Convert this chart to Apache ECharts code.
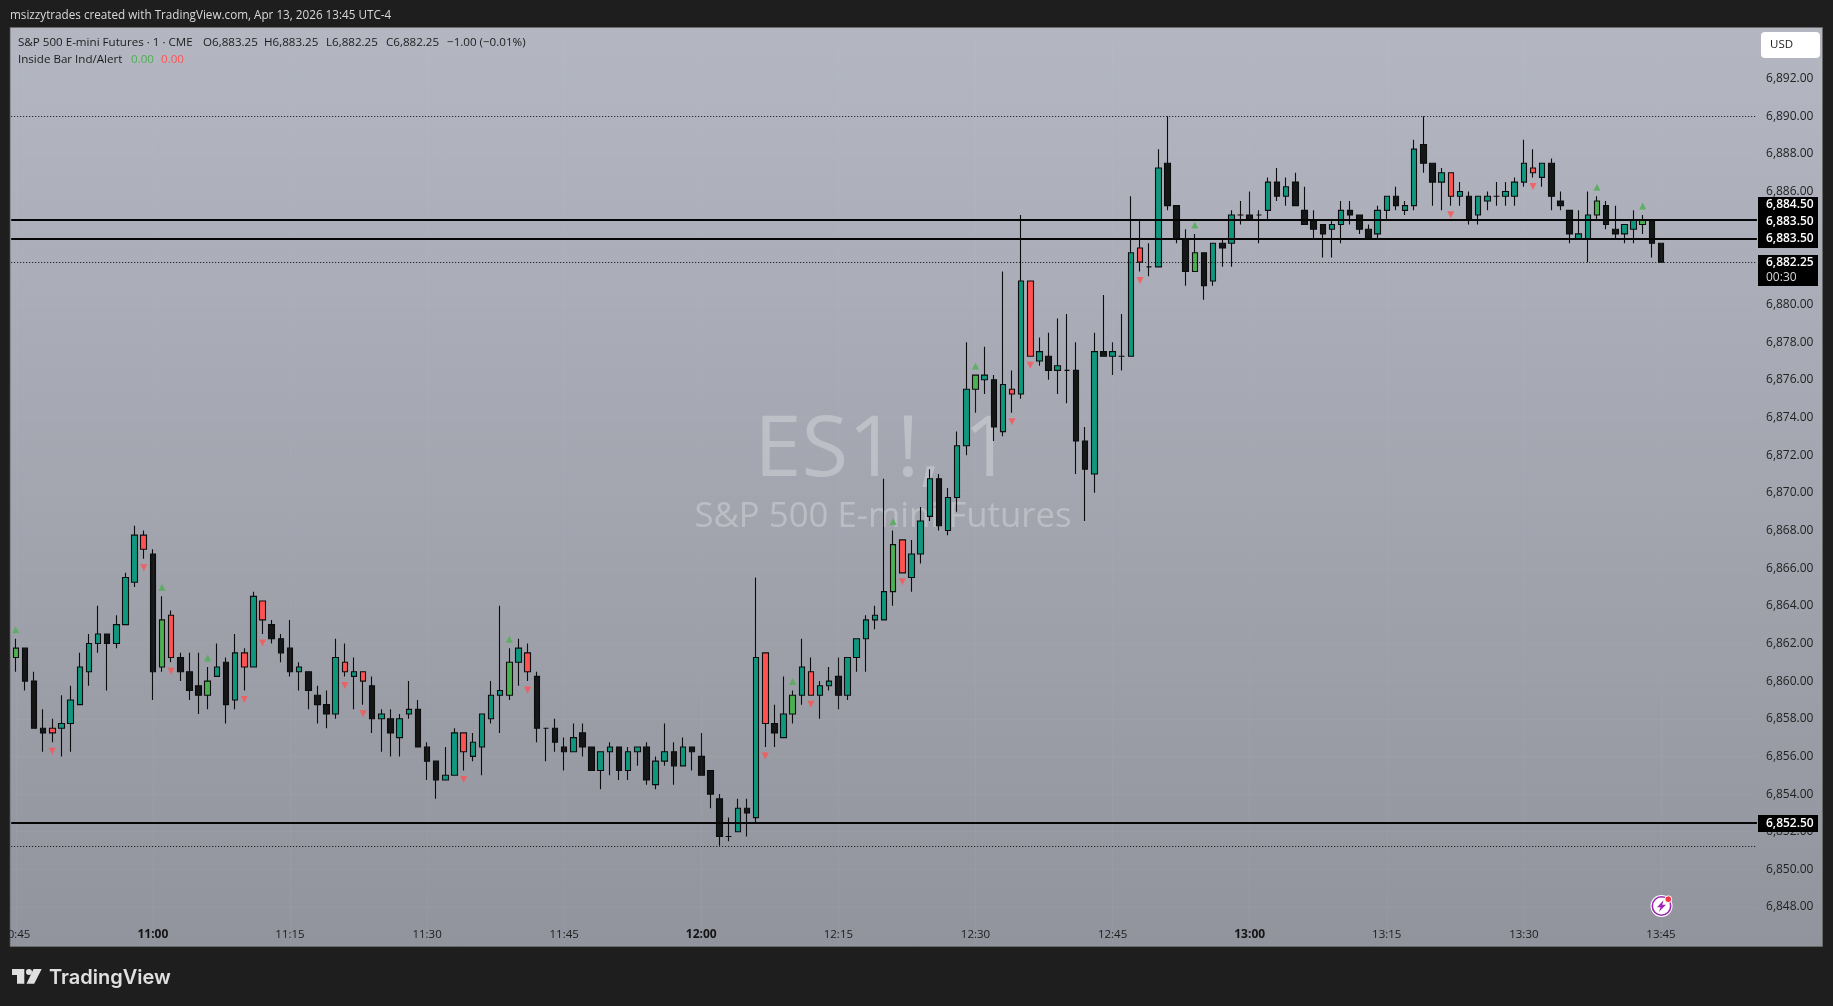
<!DOCTYPE html>
<html>
<head>
<meta charset="utf-8">
<style>html,body{margin:0;padding:0;background:#1e1e1e;overflow:hidden}#c{width:1833px;height:1006px}</style>
<script src="https://cdn.jsdelivr.net/npm/echarts@6/dist/echarts.min.js"></script>
</head>
<body>
<div id="c"></div>
<script>
const kinds = ['G','K','K','K','R','T','T','T','T','T','K','T','T','T','R','K','G','R','K','K','K','G','T','K','T','R','T','R','K','K','K','T','K','K','K','T','R','T','R','K','T','K','T','T','K','K','K','T','T','R','T','T','T','T','G','T','R','K','K','K','K','T','K','K','T','T','K','T','T','K','T','T','K','T','K','K','K','K','K','T','K','T','R','K','T','G','T','R','T','T','K','T','T','T','T','T','G','R','T','T','T','K','T','T','T','G','T','K','T','R','T','R','T','K','T','K','K','K','T','K','T','K','T','R','K','T','K','K','K','G','K','T','K','T','K','K','K','T','K','T','K','K','K','K','T','T','K','K','K','T','T','K','T','T','K','K','T','R','T','K','T','T','K','T','T','T','R','T','K','K','K','T','T','G','K','K','T','T','G','K','K'];
const opens = [6861.25,6861.75,6860,6857.5,6857.5,6857.5,6857.75,6858.75,6860.5,6862,6862.5,6862,6863,6865.25,6867.75,6866.75,6860.75,6863.5,6861.25,6860.5,6859.75,6859.25,6860.25,6861,6859,6861.5,6860.75,6864.25,6863,6862.25,6861.75,6860.5,6860.5,6859.25,6858.75,6858.25,6861,6860.25,6860.5,6859.75,6858,6858,6857,6858.25,6858.5,6856.5,6855.75,6854.75,6855,6857.25,6856,6856.5,6858,6859.25,6859.25,6861,6861.5,6860.25,6857.5,6857.5,6856.5,6856.25,6857.25,6856.5,6855.25,6856.25,6856.5,6855.25,6856.25,6856.5,6854.5,6855.75,6856.25,6855.5,6856.5,6856,6855.25,6853.75,6851.75,6852,6853.25,6852.75,6861.5,6857.75,6857,6858.25,6859.25,6860.5,6859.25,6859.75,6860.25,6859.25,6861.25,6862.25,6863.25,6863.25,6864.75,6867.5,6865.5,6866.75,6868.75,6870.75,6868,6869.75,6872.5,6875.5,6876,6876,6873.25,6875.5,6875.25,6881.25,6877,6877.25,6876.5,6876.5,6876.5,6872.75,6871,6877.5,6877.25,6877.25,6877.25,6883,6882,6882,6887.5,6885.25,6883.5,6881.75,6882.75,6881.25,6883.25,6883.25,6884.75,6884.75,6884.75,6885,6886.5,6885.75,6886.5,6885,6884.5,6884.25,6884,6884.25,6885,6884.75,6884,6883.75,6885,6885.75,6885,6885.25,6888.5,6887.5,6886.5,6887,6885.75,6885.75,6884.75,6885.5,6885.75,6885.75,6885.75,6886.5,6887.25,6886.75,6887.5,6885.5,6885,6883.5,6883.5,6884.75,6885.25,6884,6883.75,6884,6884.25,6884.5,6883.25];
const highs = [6862.25,6861.75,6860.5,6858.5,6858,6859.25,6859.75,6861.5,6862.5,6864,6862.5,6863.5,6865.75,6868.25,6868,6867,6864.5,6863.75,6861.5,6861.5,6861.5,6860.75,6862,6861.25,6862.5,6861.75,6864.75,6864.25,6863.25,6862.5,6863.25,6861,6860.5,6859.75,6859.5,6862.25,6862,6861.25,6860.5,6860.25,6858.5,6858.5,6858.25,6860,6859,6856.75,6855.75,6856.5,6857.5,6857.25,6857.25,6858.25,6860,6864,6861.75,6862.25,6862,6860.5,6857.5,6858,6857,6857.75,6857.75,6856.5,6856.25,6856.75,6856.5,6856.5,6856.5,6856.75,6856,6857.75,6856.75,6857,6856.5,6857.25,6855.25,6854,6852.75,6853.75,6853.75,6865.5,6861.5,6858.75,6860.25,6859.5,6862.25,6861.25,6860,6860.75,6861.25,6861.25,6862.25,6863.5,6864,6870.75,6868,6867.5,6867.5,6869.25,6871.25,6871,6870.25,6873.25,6878,6876.25,6877.75,6876.25,6881.75,6876.5,6884.75,6881.25,6878.25,6878.5,6879.25,6879.5,6878,6873.5,6878.5,6880.5,6878,6879.5,6885.75,6884.5,6883.25,6888.25,6890,6885.25,6884,6883.75,6882.75,6883.25,6883.5,6885,6885.5,6886,6885,6886.75,6887.25,6886.75,6887,6886.25,6885,6884.25,6884.5,6885.5,6885.5,6884.75,6884.25,6885.25,6885.75,6886.25,6885.5,6888.75,6890,6887.5,6887.25,6887,6886.5,6886,6885.75,6886,6886.5,6886.5,6886.75,6888.75,6888.25,6887.5,6887.75,6886,6885,6885,6886,6885.75,6885.5,6885.25,6884.25,6885,6884.75,6884.5,6883.25];
const lows = [6860.5,6859.5,6857.5,6856.25,6856.75,6856,6856.25,6858.75,6859.75,6861.5,6859.5,6861.75,6863,6865,6866.5,6859,6860.5,6861,6860,6859,6858.25,6858.5,6860.25,6857.75,6858.5,6859.5,6860.75,6862.5,6862,6861,6860.25,6859.5,6858.5,6857.75,6857.5,6858,6860.25,6858.5,6858.75,6857.25,6856.25,6856,6856,6858,6856.5,6854.75,6853.75,6854.75,6855,6855.25,6855.75,6855,6857.75,6857.25,6859,6859.75,6860,6856.75,6855.75,6856.25,6855.25,6856.25,6856,6855.25,6854.25,6855,6854.75,6854.75,6855.5,6854.5,6854.25,6855.5,6854.5,6855.5,6855.25,6855,6853.25,6851.25,6851.5,6852,6851.75,6852.5,6856.5,6856.5,6857,6857.75,6858.75,6859.25,6858,6859.5,6858.5,6859,6860.5,6860.5,6862.75,6863.25,6864,6865.75,6864.75,6866.25,6868.5,6868,6867.75,6869,6872,6874.25,6875.25,6872.75,6873,6874.25,6875,6877.25,6876.75,6876,6875.25,6874.75,6871,6868.5,6870,6877.25,6876.25,6876.5,6877.25,6881.75,6881.5,6882,6885,6883.25,6881,6881.75,6880.25,6881,6882,6882,6884.25,6884.5,6883.25,6884.5,6885.5,6885.25,6885.25,6884.25,6883.5,6882.5,6882.5,6883.25,6884.25,6883.75,6883.5,6883.5,6884.5,6885,6884.75,6885,6887,6885.25,6885,6885.25,6885.25,6884.25,6884.25,6885,6885.25,6885.25,6885.25,6886.25,6886.75,6886.25,6885,6885,6883.25,6883.5,6882.25,6884.5,6884,6883.5,6883.25,6883.25,6883.75,6882.5,6882.25];
const closes = [6861.75,6860,6857.5,6857.25,6857.25,6857.75,6859,6860.75,6862,6862.5,6862,6863,6865.5,6867.75,6867,6860.5,6863.25,6861.25,6860.5,6859.5,6859.25,6860,6860.75,6858.75,6861.5,6860.75,6864.5,6863.25,6862.25,6861.5,6860.5,6860.75,6859.5,6858.75,6858.25,6861.25,6860.5,6860.5,6860,6858,6858.25,6857.25,6858,6858.5,6856.5,6855.75,6854.75,6855,6857.25,6856.25,6856.75,6858.25,6859.25,6859.5,6861,6861.75,6860.5,6857.5,6857.5,6856.75,6856.25,6857,6856.5,6855.25,6856.25,6856.5,6855.25,6856.25,6856.5,6854.75,6855.75,6856.25,6855.5,6856.5,6856.25,6855,6854,6851.75,6851.75,6853.25,6853,6861.25,6857.75,6857.25,6858.25,6859.25,6860.75,6859.25,6859.75,6860,6859.25,6861.25,6862.25,6863.25,6863.5,6864.75,6867.25,6865.75,6866.75,6868.5,6870.75,6868.25,6869.75,6872.5,6875.5,6876.25,6876.25,6873.5,6875.75,6875.25,6881.25,6877.25,6877.5,6876.5,6876.75,6876.5,6872.75,6871.25,6877.5,6877.25,6877.5,6877.25,6882.75,6882.25,6882,6887.25,6885.25,6883.5,6881.75,6882.75,6881,6883.25,6883,6884.75,6884.75,6884.5,6884.75,6886.5,6885.75,6886.25,6885.25,6884.25,6884,6883.75,6884.25,6885,6884.75,6884,6883.5,6885,6885.75,6885.25,6885.25,6888.25,6887.5,6886.5,6887,6885.75,6886,6884.5,6885.75,6885.75,6885.75,6886,6886.5,6887.5,6887,6887.5,6885.75,6885.25,6883.75,6883.75,6884.75,6885.5,6884.25,6883.75,6884.25,6884.5,6884.5,6883.25,6882.25];
const tickLabels = ['10:45','11:00','11:15','11:30','11:45','12:00','12:15','12:30','12:45','13:00','13:15','13:30','13:45'];
const boldTicks = ['11:00','12:00','13:00'];
const solidLevels = [6884.5, 6883.5, 6852.5];
const dottedLevels = [6890, 6882.25, 6851.25];
const emptySlots = 10;

const palette = {T:'#0f977f', K:'#151617', G:'#4caf50', R:'#ff5252'};
const times = [];
for (let i = 0; i < kinds.length + emptySlots; i++) {
  const m = 10*60 + 45 + i;
  times.push(Math.floor(m/60) + ':' + String(m%60).padStart(2,'0'));
}
const candles = kinds.map((k,i) => ({
  value:[opens[i], closes[i], lows[i], highs[i]],
  itemStyle:{color:palette[k], color0:palette[k], borderColor:'#0c0c0c', borderColor0:'#0c0c0c', borderColorDoji:'#0c0c0c'}
}));
const upMarks = [], downMarks = [];
kinds.forEach((k,i) => {
  if (k === 'G') upMarks.push([times[i], highs[i]]);
  if (k === 'R') downMarks.push([times[i], lows[i]]);
});

const FONT = '"Open Sans", sans-serif';
const txt = (text,x,y,size,fill,extra) => ({type:'text', z:extra&&extra.z||50, silent:true,
  style:Object.assign({text, x, y, font:(extra&&extra.weight||'normal')+' '+size+'px '+(extra&&extra.family||FONT), fill, verticalAlign:'middle', align:'left'}, extra&&extra.style||{})});
const box = (x,y,w,h,fill,z,r) => ({type:'rect', z:z, silent:true, shape:{x,y,width:w,height:h,r:r||0}, style:{fill}});

const graphics = [
  {type:'rect', z:-5, silent:true, shape:{x:10,y:27.5,width:1812.5,height:919},
   style:{stroke:'#6a6a6a', lineWidth:1, fill:{type:'linear',x:0,y:0,x2:0,y2:1,colorStops:[{offset:0,color:'#b4b7c2'},{offset:1,color:'#92949d'}]}}},
  {type:'text', z:-4, silent:true, style:{text:'ES1!, 1', x:883, y:494, font:'normal 85px '+FONT, fill:'rgba(255,255,255,0.28)', align:'center', verticalAlign:'bottom'}},
  {type:'text', z:-4, silent:true, style:{text:'S&P 500 E-mini Futures', x:883, y:517.5, font:'normal 34.8px '+FONT, fill:'rgba(255,255,255,0.28)', align:'center', verticalAlign:'middle'}},
  box(0,0,9.5,1006,'#1e1e1e',100),
  txt('msizzytrades created with TradingView.com, Apr 13, 2026 13:45 UTC-4',10,16,11.7,'#d9d9d9'),
  txt('S&P 500 E-mini Futures · 1 · CME',18,43,11.6,'#1c1c1c'),
  txt('O6,883.25',203,43,11.6,'#1c1c1c'),
  txt('H6,883.25',264,43,11.6,'#1c1c1c'),
  txt('L6,882.25',326,43,11.6,'#1c1c1c'),
  txt('C6,882.25',386,43,11.6,'#1c1c1c'),
  txt('−1.00 (−0.01%)',447,43,11.6,'#1c1c1c'),
  txt('Inside Bar Ind/Alert',18,60,11.6,'#1c1c1c'),
  txt('0.00',131,60,11.6,'#4caf50'),
  txt('0.00',161,60,11.6,'#ff5252'),
  box(1761,32,59,26,'#ffffff',50,4),
  txt('USD',1770,45,11.5,'#1c1c1c'),
  box(1758,197,60,51,'#000000',50),
  txt('6,884.50',1766,205,12,'#ffffff',{weight:'600'}),
  txt('6,883.50',1766,221.5,12,'#ffffff',{weight:'600'}),
  txt('6,883.50',1766,238.5,12,'#ffffff',{weight:'600'}),
  box(1758,255,60,31,'#000000',50),
  txt('6,882.25',1766,263,12,'#ffffff',{weight:'600'}),
  txt('00:30',1766,277.5,12,'#d8d8d8'),
  box(1758,815,60,17,'#000000',50),
  txt('6,852.50',1766,823.5,12,'#ffffff',{weight:'600'}),
  {type:'circle', z:50, silent:true, shape:{cx:1661.5,cy:906,r:11}, style:{fill:'#ffffff'}},
  {type:'circle', z:50, silent:true, shape:{cx:1661.5,cy:906,r:9.2}, style:{fill:'#ffffff',stroke:'#9c27b0',lineWidth:1.6}},
  {type:'polygon', z:51, silent:true, shape:{points:[[1663.5,900.2],[1657,907.2],[1660.5,907.2],[1659,911.7],[1666,904.7],[1662.3,904.7]]}, style:{fill:'#9c27b0'}},
  {type:'circle', z:52, silent:true, shape:{cx:1668.3,cy:899.2,r:3.4}, style:{fill:'#f23645',stroke:'#ffffff',lineWidth:1}},
  {type:'polygon', z:50, silent:true, shape:{points:[[12,969],[24.3,969],[24.3,983.7],[17,983.7],[17,975],[12,975]]}, style:{fill:'#e0e0e0'}},
  {type:'circle', z:50, silent:true, shape:{cx:29,cy:972,r:3}, style:{fill:'#e0e0e0'}},
  {type:'polygon', z:50, silent:true, shape:{points:[[33.5,969],[41.7,969],[34.2,983.7],[26.5,983.7]]}, style:{fill:'#e0e0e0'}},
  txt('TradingView',49,977.5,20,'#e0e0e0',{weight:'600',family:'Inter, sans-serif'})
];

const chart = echarts.init(document.getElementById('c'), null, {renderer:'canvas'});
chart.setOption({
  animation:false,
  backgroundColor:'#1e1e1e',
  graphic:{elements:graphics},
  grid:{left:11.2, width:1745.74, top:40.88, height:903.84, containLabel:false, outerBoundsMode:'none'},
  xAxis:{type:'category', data:times, boundaryGap:true,
    axisLine:{show:false}, axisTick:{show:false}, splitLine:{show:false},
    axisLabel:{inside:true, margin:4.5, color:'#1c1c1c', fontFamily:FONT, fontSize:11.5, hideOverlap:false,
      interval:(i,v)=>tickLabels.includes(v),
      formatter:v=>boldTicks.includes(v)?'{b|'+v+'}':v,
      rich:{b:{fontWeight:'bold', color:'#141414', fontFamily:FONT, fontSize:12}}}},
  yAxis:{type:'value', position:'right', min:6846, max:6894, interval:2, scale:true,
    axisLine:{show:false}, axisTick:{show:false},
    splitLine:{show:true, showMinLine:false, showMaxLine:false, lineStyle:{color:'rgba(215,215,255,0.05)', width:1}},
    axisLabel:{margin:9.1, color:'#222222', fontFamily:FONT, fontSize:12, align:'left', showMinLabel:false, showMaxLabel:false,
      formatter:v=>Number(v).toLocaleString('en-US',{minimumFractionDigits:2,maximumFractionDigits:2})}},
  series:[
    {type:'line', name:'levels', z:1, data:closes, showSymbol:false, silent:true, lineStyle:{opacity:0},
     markLine:{silent:true, symbol:'none', animation:false, label:{show:false}, data:[
       ...tickLabels.map(t=>({xAxis:t, lineStyle:{color:'rgba(215,215,255,0.05)', width:1, type:'solid'}})),
       ...solidLevels.map(v=>({yAxis:v, lineStyle:{color:'#050505', width:2, type:'solid'}})),
       ...dottedLevels.map(v=>({yAxis:v, lineStyle:{color:'#0c0c0c', width:1, type:[1,2]}}))
     ]}},
    {type:'candlestick', name:'ES1!', z:3, data:candles, barWidth:6, itemStyle:{borderWidth:1.1}, clip:false},
    {type:'scatter', name:'inside up', z:4, data:upMarks, symbol:'triangle', symbolSize:[7,7], symbolOffset:[0,-9], itemStyle:{color:palette.G}, silent:true},
    {type:'scatter', name:'inside down', z:4, data:downMarks, symbol:'triangle', symbolSize:[7,7], symbolRotate:180, symbolOffset:[0,9], itemStyle:{color:palette.R}, silent:true}
  ]
});
</script>
</body>
</html>
